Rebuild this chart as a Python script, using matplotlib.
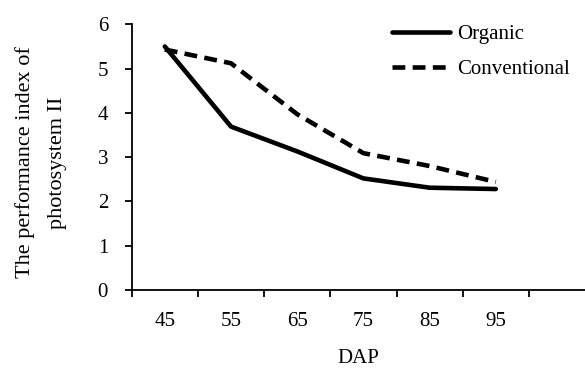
import numpy as np
import matplotlib.pyplot as plt
from matplotlib.ticker import FixedLocator, NullFormatter

plt.rcParams['font.family'] = ['Liberation Serif', 'DejaVu Serif']

dap = [45, 55, 65, 75, 85, 95]
organic = [5.5, 3.69, 3.13, 2.52, 2.31, 2.28]
conventional = [5.43, 5.12, 3.97, 3.09, 2.8, 2.44]
yticks = [0, 1, 2, 3, 4, 5, 6]

fs = 15

fig = plt.figure(figsize=(5.85, 3.69), dpi=100)
ax = fig.add_axes([131.7 / 585, 1 - 290 / 369, 1 - 131.7 / 585, (290 - 24.3) / 369])

ax.plot(dap, organic, color='black', lw=3.3, solid_capstyle='round', label='Organic')
ax.plot(dap, conventional, color='black', lw=3.3, dashes=(2.8, 1.6), label='Conventional')

ax.set_xlim(40, 40 + (585 - 131.7) / 6.62)
ax.set_ylim(0, 6)

# category style axis: marks at boundaries, labels at centres
ax.xaxis.set_major_locator(FixedLocator(np.arange(40, 110, 10)))
ax.xaxis.set_major_formatter(NullFormatter())
ax.xaxis.set_minor_locator(FixedLocator(dap))
ax.set_xticklabels([str(d) for d in dap], minor=True)
ax.tick_params(axis='x', which='major', direction='out', length=5, width=1.3)
ax.tick_params(axis='x', which='minor', length=0, pad=16, labelsize=fs)
ax.set_yticks(yticks)
ax.tick_params(axis='y', direction='out', length=5, width=1.3, pad=12, labelsize=fs)

for s in ['top', 'right']:
    ax.spines[s].set_visible(False)
for s in ['left', 'bottom']:
    ax.spines[s].set_linewidth(1.3)

ax.set_xlabel('DAP', fontsize=fs)
ax.xaxis.set_label_coords(0.5, -0.222)
ax.set_ylabel('The performance index of\nphotosystem II', fontsize=16, linespacing=1.95)
ax.yaxis.set_label_coords(-0.143, 0.48)

ax.legend(loc='upper left', bbox_to_anchor=(0.556, 1.03), frameon=False, fontsize=fs,
          handlelength=2.8, handletextpad=0.33, labelspacing=0.75, borderaxespad=0)

fig.savefig('out.png', dpi=100)
